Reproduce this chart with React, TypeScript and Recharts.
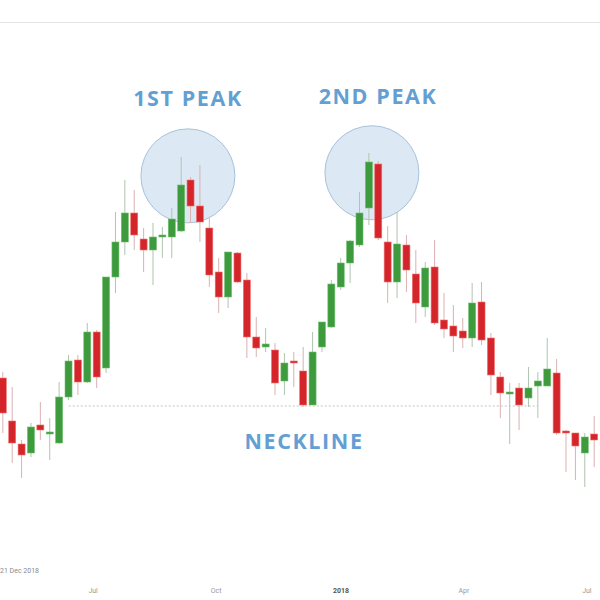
import React from 'react';
import { ComposedChart, Bar, XAxis, YAxis, ReferenceDot, ReferenceLine } from 'recharts';

// weekly candles (arbitrary price units)
const opens = [122, 79, 56, 47, 75, 67, 57, 103, 140, 118, 168, 132, 223, 258, 287, 261, 250, 263, 263, 269, 320, 294, 272, 228, 203, 247, 220, 163, 153, 150, 119, 139, 129, 95, 153, 173, 213, 237, 255, 292, 336, 258, 218, 255, 226, 193, 233, 180, 174, 169, 162, 198, 162, 123, 107, 112, 102, 114, 114, 127, 69, 67, 47, 66];
const highs = [128, 113, 60, 77, 98, 82, 118, 145, 145, 177, 170, 223, 288, 320, 310, 272, 277, 273, 292, 343, 323, 335, 282, 242, 248, 248, 227, 183, 172, 157, 147, 148, 153, 168, 178, 220, 242, 260, 308, 347, 339, 274, 288, 265, 250, 238, 260, 207, 195, 182, 217, 218, 167, 128, 117, 117, 133, 128, 162, 141, 70, 67, 67, 84];
const lows = [67, 37, 22, 43, 60, 40, 56, 100, 105, 117, 112, 127, 207, 245, 250, 228, 215, 242, 242, 268, 277, 258, 213, 187, 192, 217, 142, 143, 148, 105, 105, 113, 93, 95, 148, 172, 210, 217, 253, 275, 260, 197, 202, 208, 177, 183, 175, 162, 148, 152, 153, 155, 105, 82, 56, 70, 93, 82, 114, 65, 28, 20, 13, 33];
const closes = [87, 57, 45, 73, 70, 68, 103, 139, 118, 168, 123, 223, 258, 287, 265, 250, 263, 265, 281, 315, 294, 278, 225, 203, 248, 218, 163, 152, 156, 117, 137, 137, 95, 148, 178, 216, 237, 259, 287, 338, 262, 218, 256, 230, 197, 232, 177, 171, 164, 162, 197, 160, 125, 107, 108, 95, 112, 119, 131, 67, 67, 54, 63, 60];

const tickPositions = [9.6, 22.7, 36, 49.1, 62.2];
const tickLabels = ['Jul', 'Oct', '2018', 'Apr', 'Jul'];

const necklineValue = 94;
const necklineFrom = 7;
const necklineTo = 57;

const peaks = [
  { i: 19.7, v: 330 },
  { i: 39.3, v: 333 },
];

const data = opens.map((o, i) => ({
  i,
  open: o,
  high: highs[i],
  low: lows[i],
  close: closes[i],
  range: [lows[i], highs[i]],
}));

const W = 600;
const H = 600;
const margin = { top: 0, right: 0, left: 0, bottom: 0 };
const xDomain = [-0.32, 63.6];
const yDomain = [-80, 500];

const Candle = (props: any) => {
  const { x, y, width, height, payload } = props;
  if (!payload) return null;
  const { open, close, high, low } = payload;
  const top = Math.min(y, y + height);
  const h = Math.abs(height);
  const span = high - low || 1;
  const py = (v: number) => top + ((high - v) / span) * h;
  const cx = x + width / 2;
  const up = close >= open;
  const bodyTop = py(Math.max(open, close));
  const bodyBot = py(Math.min(open, close));
  return (
    <g>
      <line x1={cx} x2={cx} y1={top} y2={top + h} stroke={up ? '#b0c4b0' : '#dcb0b0'} strokeWidth={1} />
      <rect
        x={cx - 3.5}
        y={bodyTop}
        width={7}
        height={Math.max(2, bodyBot - bodyTop)}
        fill={up ? '#3d9b3d' : '#d4262a'}
        stroke={up ? '#6fbf6f' : '#f07070'}
        strokeWidth={0.6}
      />
    </g>
  );
};

const DateTick = (props: any) => {
  const { x, y, payload } = props;
  const label = tickLabels[tickPositions.indexOf(payload.value)] ?? '';
  const isYear = label === '2018';
  return (
    <text
      x={x}
      y={y}
      dy="0.71em"
      textAnchor="middle"
      fontSize={7}
      fontFamily="Roboto, sans-serif"
      fontWeight={isYear ? 700 : 400}
      fill={isYear ? '#555' : '#9a9a9a'}
    >
      {label}
    </text>
  );
};

const labelStyle: React.CSSProperties = {
  position: 'absolute',
  fontFamily: '"Open Sans", sans-serif',
  fontWeight: 700,
  fontSize: 21.5,
  letterSpacing: 1.6,
  color: '#649fd4',
  whiteSpace: 'nowrap',
  transform: 'translate(-50%, -50%)',
};

export default function App() {
  return (
    <div style={{ position: 'fixed', left: 0, top: 0, width: W, height: H, background: '#fff', overflow: 'hidden' }}>
      <div style={{ position: 'absolute', left: 0, top: 22, width: W, height: 1, background: '#e4e4e4' }} />
      {/* back layer: peak circles */}
      <div style={{ position: 'absolute', left: 0, top: 0 }}>
        <ComposedChart width={W} height={H} data={data} margin={margin}>
          <XAxis dataKey="i" type="number" domain={xDomain} allowDataOverflow hide height={20} />
          <YAxis hide domain={yDomain} allowDataOverflow />
          {peaks.map((p, k) => (
            <ReferenceDot
              key={k}
              x={p.i}
              y={p.v}
              r={47}
              fill="#dce8f4"
              fillOpacity={1}
              stroke="#a8c2dc"
              strokeWidth={1}
              ifOverflow="visible"
            />
          ))}
        </ComposedChart>
      </div>
      {/* front layer: candles, neckline, axis */}
      <div style={{ position: 'absolute', left: 0, top: 0 }}>
        <ComposedChart width={W} height={H} data={data} margin={margin}>
          <XAxis
            dataKey="i"
            type="number"
            domain={xDomain}
            allowDataOverflow
            ticks={tickPositions}
            interval={0}
            axisLine={false}
            tickLine={false}
            tickSize={0}
            tickMargin={8}
            height={20}
            tick={<DateTick />}
          />
          <YAxis hide domain={yDomain} allowDataOverflow />
          <ReferenceLine
            segment={[
              { x: necklineFrom, y: necklineValue },
              { x: necklineTo, y: necklineValue },
            ]}
            stroke="#c4c4c4"
            strokeDasharray="2 2"
            strokeWidth={1}
          />
          <Bar dataKey="range" barSize={7} shape={<Candle />} isAnimationActive={false} />
        </ComposedChart>
      </div>
      <div style={{ ...labelStyle, left: 188, top: 97 }}>1ST PEAK</div>
      <div style={{ ...labelStyle, left: 378, top: 95 }}>2ND PEAK</div>
      <div style={{ ...labelStyle, left: 304, top: 440 }}>NECKLINE</div>
      <div style={{ position: 'absolute', left: 0, top: 567, fontSize: 7, color: '#8a8a8a', fontFamily: 'Roboto, sans-serif' }}>
        21 Dec 2018
      </div>
    </div>
  );
}
